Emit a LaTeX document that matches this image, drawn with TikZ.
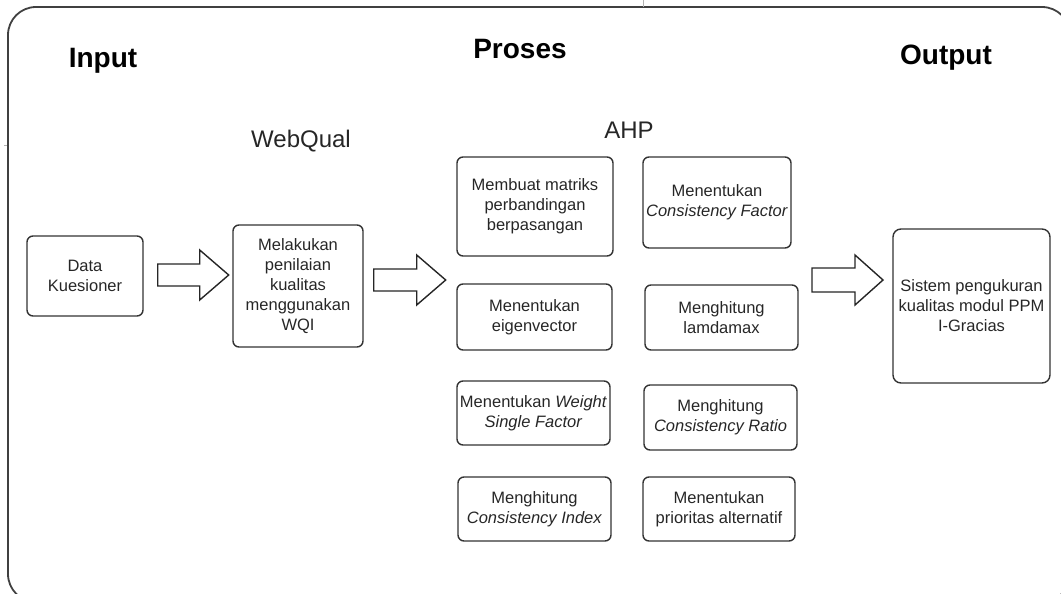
\documentclass[tikz,border=0pt]{standalone}
\usepackage{fontspec}
\setmainfont{Liberation Sans}
\begin{document}
\begin{tikzpicture}[x=1pt,y=-1pt,
  box/.style={draw=black!80, line width=1.4pt, rounded corners=6pt, inner sep=0pt,
    align=center, font=\fontsize{16.5}{20}\selectfont, text=black!85},
  barrow/.style={draw=black!85, line width=1.4pt, fill=white, line join=miter},
  ttl/.style={font=\fontsize{28}{30}\selectfont\bfseries, anchor=base},
  sub/.style={font=\fontsize{24}{28}\selectfont, anchor=base, text=black!85}]
\useasboundingbox (0,0) rectangle (1061,594);
\begin{scope}
\clip (0,0) rectangle (1061,594);
\draw[black!75, line width=1.8pt, rounded corners=28pt] (8,7) rectangle (1070,602);
\draw[black!30, line width=0.8pt] (643,0) -- (643,7);
\draw[black!30, line width=0.8pt] (4,145) -- (7,145);
\end{scope}
% titles
\node[ttl] (tin) at (103,67) {Input};
\node[ttl] (tpr) at (520,59) {Proses};
\node[ttl] (tout) at (946,65) {Output};
\node[sub] (twq) at (301,147) {WebQual};
\node[sub] (tahp) at (629,138) {AHP};
% boxes
\node[box, minimum width=116pt, minimum height=80pt] (dk) at (85,276) {Data\\Kuesioner};
\node[box, minimum width=130pt, minimum height=122pt] (wqi) at (298,286) {Melakukan\\penilaian\\kualitas\\menggunakan\\WQI};
\node[box, minimum width=156pt, minimum height=99pt] (m1) at (535,206.5) {Membuat matriks\\perbandingan\\berpasangan};
\node[box, minimum width=148pt, minimum height=91pt] (m2) at (717,202.5) {Menentukan\\\textit{Consistency Factor}};
\node[box, minimum width=155pt, minimum height=66pt] (m3) at (534.5,317) {Menentukan\\eigenvector};
\node[box, minimum width=153pt, minimum height=65pt] (m4) at (721.5,317.5) {Menghitung\\lamdamax};
\node[box, minimum width=153pt, minimum height=64pt] (m5) at (533.5,413) {Menentukan \textit{Weight}\\\textit{Single Factor}};
\node[box, minimum width=153pt, minimum height=65pt] (m6) at (720.5,417.5) {Menghitung\\\textit{Consistency Ratio}};
\node[box, minimum width=153pt, minimum height=64pt] (m7) at (534.5,509) {Menghitung\\\textit{Consistency Index}};
\node[box, minimum width=152pt, minimum height=64pt] (m8) at (719,509) {Menentukan\\prioritas alternatif};
\node[box, rounded corners=8pt, minimum width=157pt, minimum height=154pt] (sys) at (971.5,306) {Sistem pengukuran\\kualitas modul PPM\\I-Gracias};
% block arrows
\coordinate (a1) at ([xshift=14pt]dk.east |- 0,275);
\coordinate (a2) at ([xshift=10pt]wqi.east |- 0,280);
\coordinate (a3) at (812,280);
\draw[barrow] (a1) ++(0,-11) -- ++(42,0) -- ++(0,-14) -- ++(29,25) -- ++(-29,25) -- ++(0,-14) -- ++(-42,0) -- cycle;
\draw[barrow] (a2) ++(0,-11) -- ++(43,0) -- ++(0,-14) -- ++(29,25) -- ++(-29,25) -- ++(0,-14) -- ++(-43,0) -- cycle;
\draw[barrow] (a3) ++(0,-12) -- ++(43,0) -- ++(0,-13) -- ++(28,25) -- ++(-28,25) -- ++(0,-13) -- ++(-43,0) -- cycle;
\end{tikzpicture}
\end{document}
